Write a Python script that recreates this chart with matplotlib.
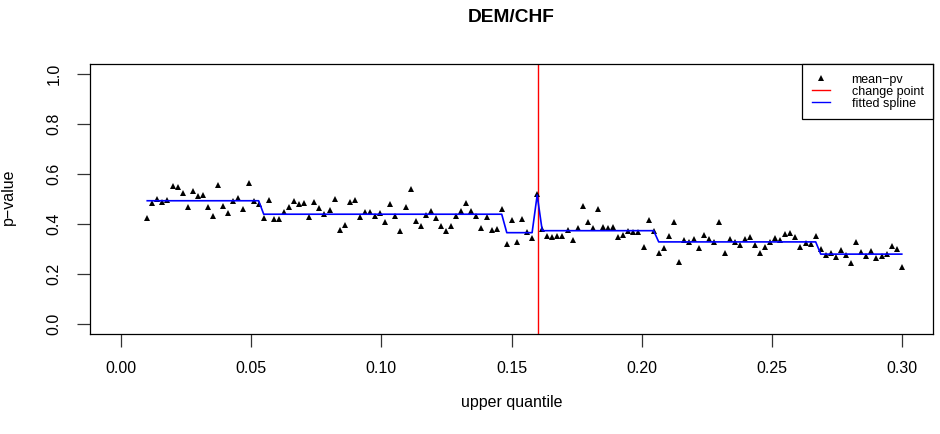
import numpy as np
import matplotlib
matplotlib.use('Agg')
import matplotlib.pyplot as plt
from matplotlib.lines import Line2D

plt.rcParams['font.family'] = ['Liberation Sans', 'DejaVu Sans']

# upper quantile grid and mean p-values
quantiles = np.linspace(0.01, 0.30, 150)
mean_pv = [
  0.423, 0.485, 0.499, 0.488, 0.496, 0.552, 0.549, 0.523, 0.469, 0.531,
  0.512, 0.517, 0.467, 0.431, 0.556, 0.473, 0.445, 0.493, 0.504, 0.459,
  0.565, 0.493, 0.479, 0.425, 0.496, 0.419, 0.419, 0.449, 0.469, 0.491,
  0.478, 0.484, 0.427, 0.489, 0.464, 0.440, 0.455, 0.498, 0.377, 0.395,
  0.489, 0.497, 0.427, 0.449, 0.447, 0.433, 0.443, 0.409, 0.479, 0.432,
  0.373, 0.469, 0.540, 0.412, 0.392, 0.436, 0.453, 0.425, 0.392, 0.373,
  0.390, 0.431, 0.451, 0.483, 0.452, 0.431, 0.385, 0.427, 0.375, 0.379,
  0.459, 0.320, 0.416, 0.328, 0.420, 0.369, 0.343, 0.519, 0.381, 0.351,
  0.347, 0.352, 0.352, 0.376, 0.335, 0.383, 0.471, 0.409, 0.383, 0.459,
  0.387, 0.384, 0.389, 0.348, 0.357, 0.371, 0.367, 0.367, 0.309, 0.415,
  0.373, 0.285, 0.303, 0.353, 0.408, 0.247, 0.336, 0.328, 0.340, 0.302,
  0.356, 0.340, 0.327, 0.407, 0.283, 0.340, 0.328, 0.316, 0.341, 0.347,
  0.316, 0.283, 0.309, 0.328, 0.344, 0.335, 0.360, 0.363, 0.348, 0.308,
  0.323, 0.321, 0.351, 0.299, 0.276, 0.285, 0.267, 0.295, 0.277, 0.244,
  0.327, 0.288, 0.271, 0.291, 0.265, 0.271, 0.279, 0.312, 0.299, 0.229,
]

# fitted spline: constant levels and how many grid points each one covers
spline_levels = [0.493, 0.439, 0.365, 0.516, 0.373, 0.328, 0.279]
spline_counts = [23, 48, 6, 1, 23, 32, 17]
spline = np.repeat(spline_levels, spline_counts)

change_point = 0.16

x_ticks = [0.00, 0.05, 0.10, 0.15, 0.20, 0.25, 0.30]
y_ticks = [0.0, 0.2, 0.4, 0.6, 0.8, 1.0]

fig = plt.figure(figsize=(9.4, 4.34), dpi=100)
ax = fig.add_axes([90 / 940, 1 - 333.7 / 434, 843 / 940, 269.4 / 434])

ax.plot(quantiles, mean_pv, '^', color='black', ms=4.2, mew=0, zorder=3)
ax.axvline(change_point, color='#ff0000', lw=1.0, zorder=2)
ax.plot(quantiles, spline, color='#0000ff', lw=1.2, zorder=4)

ax.set_xlim(-0.012, 0.312)
ax.set_ylim(-0.04, 1.04)
ax.set_xticks(x_ticks)
ax.set_xticklabels(['%.2f' % v for v in x_ticks])
ax.set_yticks(y_ticks)
ax.set_yticklabels(['%.1f' % v for v in y_ticks], rotation=90, va='center')
ax.tick_params(axis='both', length=9.4, width=0.9, labelsize=11.5, color='#333333')
ax.tick_params(axis='x', pad=10)
ax.tick_params(axis='y', pad=11)
for s in ax.spines.values():
  s.set_linewidth(0.9)

fig.text(511.5 / 940, 1 - 18 / 434, 'DEM/CHF', ha='center', va='center', fontsize=13.8, fontweight='bold')
fig.text(511.5 / 940, 1 - 402 / 434, 'upper quantile', ha='center', va='center', fontsize=11.5)
fig.text(8 / 940, 1 - 197 / 434, 'p\u2212value', ha='center', va='center', rotation=90, fontsize=11.5)

handles = [
  Line2D([], [], ls='none', marker='^', color='black', ms=5, mew=0),
  Line2D([], [], color='#ff0000', lw=1.0),
  Line2D([], [], color='#0000ff', lw=1.0),
]
leg = ax.legend(handles, ['mean\u2212pv', 'change point', 'fitted spline'], loc='upper right',
                fontsize=9, borderaxespad=0, fancybox=False, framealpha=1, edgecolor='black',
                labelspacing=0.0, handlelength=1.5, handletextpad=1.7, borderpad=0.75)
leg.get_frame().set_linewidth(0.9)

fig.savefig('out.png', dpi=100)
